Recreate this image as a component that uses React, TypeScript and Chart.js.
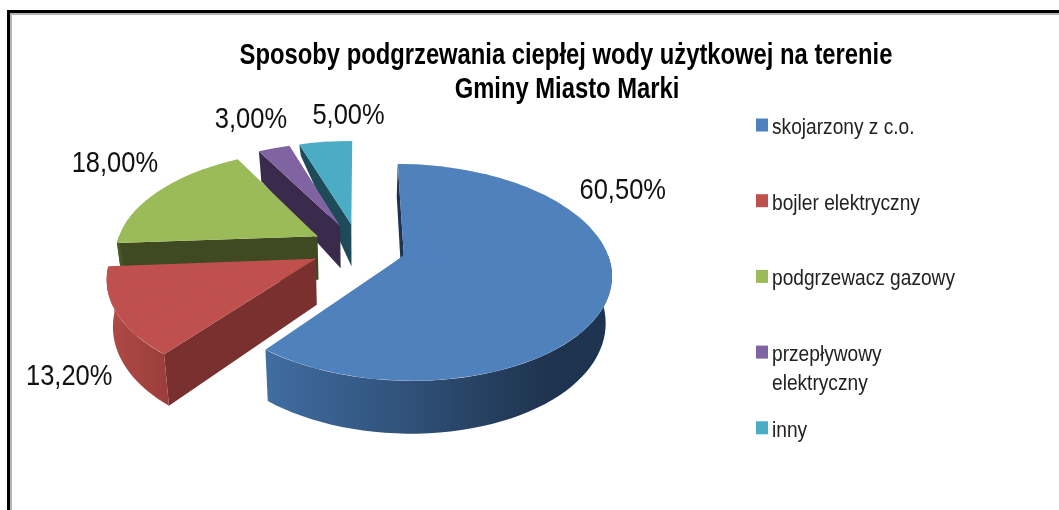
import React, { useEffect, useRef } from "react";
import { Chart, registerables } from "chart.js";

Chart.register(...registerables);

const titleLines = ["Sposoby podgrzewania ciepłej wody użytkowej na terenie", "Gminy Miasto Marki"];
const categories = ["skojarzony z c.o.", "bojler elektryczny", "podgrzewacz gazowy", "przepływowy elektryczny", "inny"];
const legendLines = [["skojarzony z c.o."], ["bojler elektryczny"], ["podgrzewacz gazowy"], ["przepływowy", "elektryczny"], ["inny"]];
const shares = [60.5, 13.2, 18.0, 3.0, 5.0];
const topColors = ["#4f81bd", "#c0504d", "#9bbb59", "#8064a2", "#4bacc6"];
const radialWallColors = ["#1f3350", "#7a302e", "#3f4a22", "#3a2a4c", "#1f4a59"];
const outerWallStops: [number, string][][] = [
  [[0, "#416da1"], [0.45, "#2e4e75"], [0.8, "#1f344f"], [1, "#1e3350"]],
  [[0, "#b04a47"], [1, "#9a3e3b"]],
  [[0, "#4a5727"], [1, "#4a5727"]],
  [[0, "#3a2a4c"], [1, "#3a2a4c"]],
  [[0, "#1f4a59"], [1, "#1f4a59"]],
];
// Where each percentage label sits relative to the middle of its slice's rim.
const labelNudges = [[13, -93], [-47, 73], [-43, -20], [-23, -20], [23, -18]];
const drawOrder = [4, 3, 2, 1, 0];

// Camera for the tilted disc.
const CAM = { cx: 358.5, cy: 247.5, sx: 47.5, sy: 24, k: 0.036, ru: 4.25, rv: 4.3, shrink: 0.975 };
const wallDepth = (v: number) => {
  if (v > 0) return 45 + 1.7 * v;
  if (v > -4.7) return 45 + 3.2 * v;
  return 30 + 50 * (v + 4.7);
};
const project = (u: number, v: number) => {
  const f = 1 / (1 - CAM.k * v);
  return { x: CAM.cx + CAM.sx * u * f, y: CAM.cy + CAM.sy * v * f, v };
};
const dropped = (p: { x: number; y: number; v: number }) => ({
  x: CAM.cx + (p.x - CAM.cx) * CAM.shrink,
  y: p.y + wallDepth(p.v),
  v: p.v,
});

const formatShare = (v: number) => v.toFixed(2).replace(".", ",") + "%";

const squeezed = (ctx: any, text: string, x: number, y: number, scale: number, align: string) => {
  ctx.save();
  ctx.translate(x, y);
  ctx.scale(scale, 1);
  ctx.textAlign = align;
  ctx.textBaseline = "alphabetic";
  ctx.fillText(text, 0, 0);
  ctx.restore();
};

const polygon = (ctx: any, pts: { x: number; y: number }[]) => {
  ctx.beginPath();
  pts.forEach((p, i) => (i ? ctx.lineTo(p.x, p.y) : ctx.moveTo(p.x, p.y)));
  ctx.closePath();
};

const sliceGeometry = (el: any) => {
  const { startAngle, endAngle } = el.getProps(["startAngle", "endAngle"], true);
  const t1 = startAngle + Math.PI / 2;
  const t2 = endAngle + Math.PI / 2;
  const mid = (t1 + t2) / 2;
  const ex = Math.sin(mid);
  const ey = -Math.cos(mid);
  const at = (t: number, scale = 1) =>
    project(ex + CAM.ru * scale * Math.sin(t), ey - CAM.rv * scale * Math.cos(t));
  return { t1, t2, mid, at, apex: project(ex, ey), startAngle, endAngle };
};

const drawWalls = (ctx: any, i: number, g: any) => {
  const { t1, t2, at, apex } = g;
  ctx.fillStyle = radialWallColors[i];
  if (-Math.sin(t1) >= -1e-6) {
    const c = at(t1);
    polygon(ctx, [apex, c, dropped(c), dropped(apex)]);
    ctx.fill();
  }
  if (Math.sin(t2) > 1e-6) {
    const c = at(t2);
    polygon(ctx, [apex, c, dropped(c), dropped(apex)]);
    ctx.fill();
  }
  const from = Math.max(t1, Math.PI / 2);
  const to = Math.min(t2, (3 * Math.PI) / 2);
  if (to > from) {
    const n = 48;
    const rim = Array.from({ length: n + 1 }, (_, k) => at(from + ((to - from) * k) / n));
    const pts = [...rim, ...rim.map(dropped).reverse()];
    const xs = pts.map((p) => p.x);
    const grad = ctx.createLinearGradient(Math.min(...xs), 0, Math.max(...xs), 0);
    outerWallStops[i].forEach(([s, c]) => grad.addColorStop(s, c));
    ctx.fillStyle = grad;
    polygon(ctx, pts);
    ctx.fill();
  }
};

// Paints the library's arc element through a local affine map per wedge, so it follows the camera.
const drawTop = (ctx: any, el: any, g: any) => {
  const { x, y, outerRadius } = el.getProps(["x", "y", "outerRadius"], true);
  const { t1, t2, at, apex } = g;
  const n = Math.ceil((t2 - t1) / (Math.PI / 12));
  const overlap = 0.01;
  for (let k = 0; k < n; k++) {
    const a = t1 + ((t2 - t1) * k) / n;
    const b = t1 + ((t2 - t1) * (k + 1)) / n;
    const p = at(a);
    const q = at(b);
    const ca = Math.cos(a - Math.PI / 2), sa = Math.sin(a - Math.PI / 2);
    const cb = Math.cos(b - Math.PI / 2), sb = Math.sin(b - Math.PI / 2);
    const det = ca * sb - cb * sa;
    const px = p.x - apex.x, py = p.y - apex.y, qx = q.x - apex.x, qy = q.y - apex.y;
    const m11 = (px * sb - qx * sa) / det;
    const m12 = (qx * ca - px * cb) / det;
    const m21 = (py * sb - qy * sa) / det;
    const m22 = (qy * ca - py * cb) / det;
    const s = 1 / outerRadius;
    const behind = at((a + b) / 2 + Math.PI, 0.08);
    ctx.save();
    polygon(ctx, [behind, at(a - overlap, 1.2), at((a + b) / 2, 1.25), at(b + overlap, 1.2)]);
    ctx.clip();
    ctx.transform(m11 * s, m21 * s, m12 * s, m22 * s, apex.x, apex.y);
    ctx.translate(-x, -y);
    el.draw(ctx);
    ctx.restore();
  }
};

const pie3d = {
  id: "pie3d",
  beforeDatasetsDraw(chart: any) {
    const ctx = chart.ctx;
    const meta = chart.getDatasetMeta(0);
    drawOrder.forEach((i) => {
      const el = meta.data[i];
      const g = sliceGeometry(el);
      drawWalls(ctx, i, g);
      drawTop(ctx, el, g);
    });
    return false;
  },
  afterDraw(chart: any) {
    const ctx = chart.ctx;
    const meta = chart.getDatasetMeta(0);
    ctx.save();
    ctx.fillStyle = "#000";
    ctx.font = 'bold 29px "Liberation Sans"';
    squeezed(ctx, titleLines[0], 566, 64, 0.82, "center");
    squeezed(ctx, titleLines[1], 567, 98, 0.82, "center");

    ctx.fillStyle = "#111";
    ctx.font = '30px "Liberation Sans"';
    shares.forEach((v, i) => {
      const g = sliceGeometry(meta.data[i]);
      const rim = g.at(g.mid);
      squeezed(ctx, formatShare(v), rim.x + labelNudges[i][0], rim.y + labelNudges[i][1], 0.85, "center");
    });

    ctx.font = '22px "Liberation Sans"';
    legendLines.forEach((lines, i) => {
      const top = 118.5 + i * 75.7;
      ctx.fillStyle = topColors[i];
      ctx.fillRect(756, top, 12, 13);
      ctx.fillStyle = "#222";
      lines.forEach((line, j) => squeezed(ctx, line, 772, top + 15.5 + j * 28.5, 0.87, "left"));
    });
    ctx.restore();
  },
};

export default function App() {
  const ref = useRef<HTMLCanvasElement>(null);
  useEffect(() => {
    document.body.style.margin = "0";
    document.body.style.overflow = "hidden";
    const chart = new Chart(ref.current as HTMLCanvasElement, {
      type: "pie",
      data: {
        labels: categories,
        datasets: [{ data: shares, backgroundColor: topColors, borderWidth: 0 }],
      },
      options: {
        responsive: false,
        animation: false,
        plugins: { legend: { display: false }, tooltip: { enabled: false }, title: { display: false } },
      },
      plugins: [pie3d],
    } as any);
    return () => chart.destroy();
  }, []);
  return (
    <div style={{ position: "relative", width: 1059, height: 510, overflow: "hidden", background: "#fff" }}>
      <canvas ref={ref} width={1059} height={510} style={{ display: "block", width: 1059, height: 510, filter: "blur(0.4px)" }} />
      <div
        style={{
          position: "absolute",
          left: 7,
          top: 10,
          width: 1100,
          height: 600,
          boxSizing: "border-box",
          borderLeft: "3px solid #000",
          borderTop: "3px solid #000",
          boxShadow: "inset 2px 2px 0 #b4b4b4",
          pointerEvents: "none",
        }}
      />
    </div>
  );
}
